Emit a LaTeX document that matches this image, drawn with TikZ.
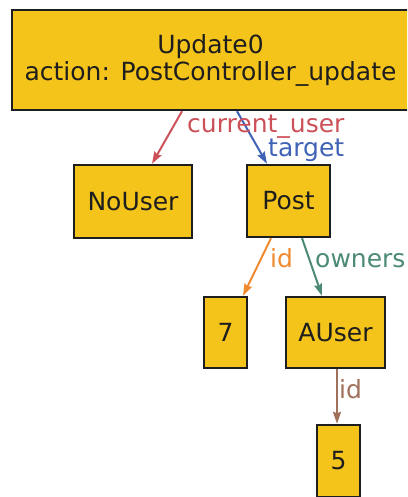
\documentclass[tikz,border=0pt]{standalone}
\usepackage{fontspec}
\setmainfont{DejaVu Sans}
\usetikzlibrary{arrows.meta}
\definecolor{boxfill}{RGB}{245,196,26}
\definecolor{boxline}{RGB}{30,30,30}
\definecolor{ered}{RGB}{204,80,88}
\definecolor{eblue}{RGB}{64,98,182}
\definecolor{eorange}{RGB}{240,138,48}
\definecolor{egreen}{RGB}{76,138,118}
\definecolor{ebrown}{RGB}{160,112,90}
\tikzset{
  objbox/.style={draw=boxline, fill=boxfill, line width=2.4pt, inner sep=0pt,
    align=center, text=boxline, font=\fontsize{25}{27}\selectfont},
  edge/.style={line width=2pt, -{Stealth[length=12pt,width=8pt,inset=1.5pt]}},
  elabel/.style={anchor=base west, inner sep=0pt, font=\fontsize{25}{27}\selectfont}
}
\begin{document}
\begin{tikzpicture}[x=1pt,y=-1pt]
  \useasboundingbox (0,0) rectangle (407,497);
  \clip (0,0) rectangle (407,497);

  % object nodes
  \node[objbox, minimum width=397pt, minimum height=100pt] (upd) at (210.5,60)
    {Update0\\action: PostController\_update};
  \node[objbox, minimum width=118pt, minimum height=73pt] (nouser) at (133,201.5) {NoUser};
  \node[objbox, minimum width=83pt, minimum height=72pt] (post) at (288.5,201) {Post};
  \node[objbox, minimum width=43pt, minimum height=71pt] (seven) at (225.5,332.5) {7};
  \node[objbox, minimum width=99pt, minimum height=71pt] (auser) at (335.5,332.5) {AUser};
  \node[objbox, minimum width=43pt, minimum height=72pt] (five) at (338.5,461) {5};

  % references between objects
  \draw[edge, ered] ([xshift=-28.5pt]upd.south) -- ([xshift=19pt]nouser.north);
  \draw[edge, eblue] ([xshift=26.5pt]upd.south) -- ([xshift=-21.5pt]post.north);
  \draw[edge, eorange] ([xshift=-17.5pt]post.south) -- ([xshift=17.5pt]seven.north);
  \draw[edge, egreen] ([xshift=13.5pt]post.south) -- ([xshift=-13.5pt]auser.north);
  \draw[edge, ebrown] ([xshift=1.5pt]auser.south) -- ([xshift=-1.5pt]five.north);

  % reference labels
  \node[elabel, text=ered] (lcu) at (187,132) {current\_user};
  \node[elabel, text=eblue] (ltg) at (268,157) {target};
  \node[elabel, text=eorange] (lid1) at (270,267) {id};
  \node[elabel, text=egreen] (low) at (315,267) {owners};
  \node[elabel, text=ebrown] (lid2) at (339,398) {id};
\end{tikzpicture}
\end{document}
